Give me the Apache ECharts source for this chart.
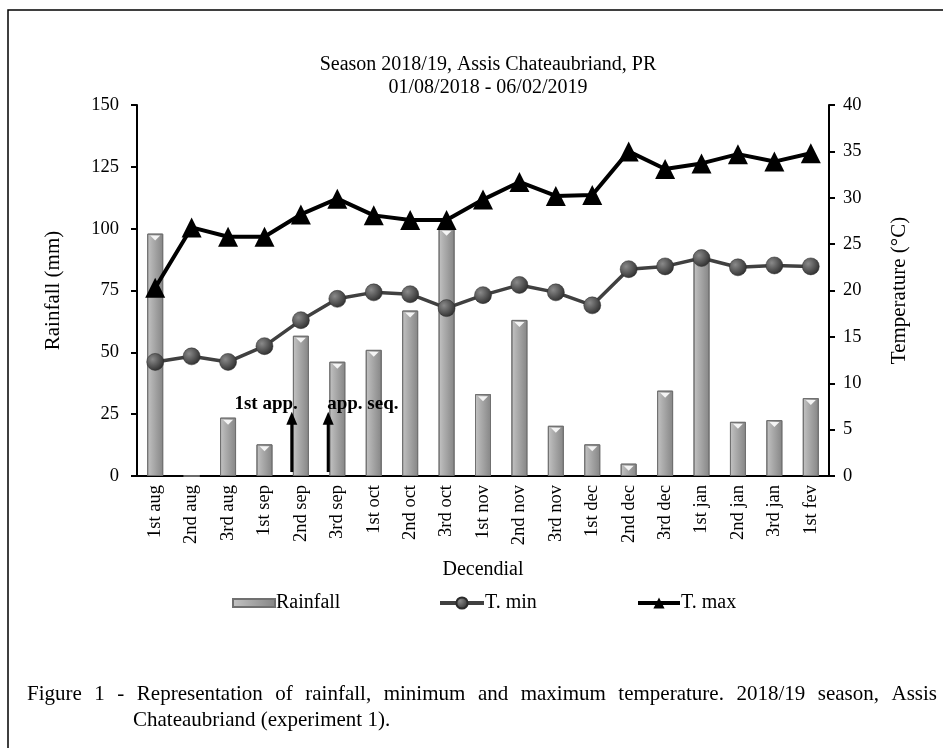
<!DOCTYPE html>
<html>
<head>
<meta charset="utf-8">
<script src="https://cdn.jsdelivr.net/npm/echarts@6/dist/echarts.min.js"></script>
<style>
  html, body { margin: 0; padding: 0; background: #fff; }
  #chart { width: 943px; height: 748px; }
</style>
</head>
<body>
<div id="chart"></div>
<script>
// decendials (10-day periods)
const decendials = ['1st aug', '2nd aug', '3rd aug', '1st sep', '2nd sep', '3rd sep',
  '1st oct', '2nd oct', '3rd oct', '1st nov', '2nd nov', '3rd nov',
  '1st dec', '2nd dec', '3rd dec', '1st jan', '2nd jan', '3rd jan', '1st fev']
const rainfall = [98, 0, 23.6, 12.8, 56.7, 46.2, 51, 66.9, 100, 33.1, 63.1, 20.3,
  12.8, 5, 34.5, 88, 21.9, 22.6, 31.5]
const tMin = [12.3, 12.9, 12.3, 14.0, 16.8, 19.1, 19.8, 19.6, 18.1, 19.5, 20.6, 19.8,
  18.4, 22.3, 22.6, 23.5, 22.5, 22.7, 22.6]
const tMax = [20.3, 26.8, 25.8, 25.8, 28.2, 29.9, 28.1, 27.6, 27.6, 29.8, 31.7, 30.2,
  30.3, 35.0, 33.1, 33.7, 34.7, 33.9, 34.8]
// application marks: category index, label, where label sits
const applications = [
  { index: 4, text: '1st app.', side: 'left' },
  { index: 5, text: 'app. seq.', side: 'right' }
]
const captionLine1 = 'Figure 1 - Representation of rainfall, minimum and maximum temperature. 2018/19 season, Assis'
const captionLine2 = 'Chateaubriand (experiment 1).'

const FONT = '"Liberation Serif", "Times New Roman", serif'
const chart = echarts.init(document.getElementById('chart'))

const barColor = new echarts.graphic.LinearGradient(0, 0, 1, 0, [
  { offset: 0, color: '#c4c4c4' },
  { offset: 0.3, color: '#b0b0b0' },
  { offset: 1, color: '#858585' }
])
const ballColor = new echarts.graphic.RadialGradient(0.35, 0.35, 0.7, [
  { offset: 0, color: '#8a8a8a' },
  { offset: 1, color: '#2e2e2e' }
])

const axisText = { color: '#000', fontFamily: FONT, fontSize: 18.5 }
const nameText = { color: '#000', fontFamily: FONT, fontSize: 21 }
const legendText = { color: '#000', fontFamily: FONT, fontSize: 20, padding: [0, 0, 0, -4] }

chart.setOption({
  animation: false,
  backgroundColor: '#fff',
  title: {
    text: 'Season 2018/19, Assis Chateaubriand, PR\n01/08/2018 - 06/02/2019',
    left: 483,
    top: 48,
    textAlign: 'center',
    textStyle: { color: '#000', fontFamily: FONT, fontSize: 20, fontWeight: 'normal', lineHeight: 23 }
  },
  legend: [
    {
      data: ['Rainfall'], left: 232, top: 593, padding: 0, icon: 'rect', itemWidth: 42, itemHeight: 8,
      textStyle: legendText
    },
    {
      data: ['T. min'], left: 438, top: 593, padding: 0, itemWidth: 44, itemHeight: 14,
      lineStyle: { width: 4, color: '#404040' },
      textStyle: legendText
    },
    {
      data: ['T. max'], left: 636, top: 593, padding: 0, itemWidth: 42, itemHeight: 14,
      lineStyle: { width: 4, color: '#000' },
      textStyle: legendText
    }
  ],
  grid: { left: 137, right: 114, top: 105, bottom: 272, containLabel: false },
  xAxis: {
    type: 'category',
    data: decendials,
    name: 'Decendial',
    nameLocation: 'middle',
    nameGap: 84,
    nameTextStyle: Object.assign({}, nameText, { fontSize: 20 }),
    axisLine: { lineStyle: { color: '#000', width: 2 } },
    axisTick: { length: 5, lineStyle: { color: '#000', width: 2 } },
    axisLabel: Object.assign({ rotate: 90, interval: 0, margin: 9 }, axisText)
  },
  yAxis: [
    {
      type: 'value', min: 0, max: 150, interval: 25,
      name: 'Rainfall (mm)', nameLocation: 'middle', nameGap: 73, nameTextStyle: nameText,
      splitLine: { show: false },
      axisLine: { show: true, lineStyle: { color: '#000', width: 2 } },
      axisTick: { show: true, length: 6, lineStyle: { color: '#000', width: 2 } },
      axisLabel: Object.assign({ margin: 18 }, axisText)
    },
    {
      type: 'value', min: 0, max: 40, interval: 5,
      name: 'Temperature (°C)', nameLocation: 'middle', nameGap: 60, nameTextStyle: nameText,
      splitLine: { show: false },
      axisLine: { show: true, lineStyle: { color: '#000', width: 2 } },
      axisTick: { show: true, length: 6, lineStyle: { color: '#000', width: 2 } },
      axisLabel: Object.assign({ margin: 14 }, axisText)
    }
  ],
  series: [
    {
      name: 'Rainfall', type: 'bar', data: rainfall, barWidth: 16,
      itemStyle: { color: barColor, borderColor: '#707070', borderWidth: 1 }
    },
    {
      // white highlight at the top of every bar
      type: 'pictorialBar', data: rainfall.map(v => (v > 0 ? v : '-')),
      symbol: 'path://M0,0 L12,0 L6,5 Z', symbolSize: [10, 5],
      symbolPosition: 'end', symbolOffset: [0, 2], z: 3, silent: true,
      itemStyle: { color: '#f4f4f4' }
    },
    {
      name: 'T. min', type: 'line', yAxisIndex: 1, data: tMin,
      symbol: 'circle', symbolSize: 17,
      lineStyle: { color: '#404040', width: 3.5 },
      itemStyle: { color: ballColor, borderColor: '#2a2a2a', borderWidth: 0.5 },
      z: 4
    },
    {
      name: 'T. max', type: 'line', yAxisIndex: 1, data: tMax,
      symbol: 'triangle', symbolSize: 20,
      lineStyle: { color: '#000', width: 4 },
      itemStyle: { color: '#000' },
      z: 5
    }
  ]
})

// annotations, frame and caption
const graphics = []
graphics.push({
  type: 'rect', silent: true, z: 0,
  shape: { x: 8, y: 10, width: 1000, height: 800 },
  style: { fill: 'none', stroke: '#000', lineWidth: 1.5 }
})

const band = chart.convertToPixel({ xAxisIndex: 0 }, 1) - chart.convertToPixel({ xAxisIndex: 0 }, 0)
applications.forEach(a => {
  const x = chart.convertToPixel({ xAxisIndex: 0 }, a.index) - band * 0.25
  const yBottom = chart.convertToPixel({ yAxisIndex: 0 }, 1.6)
  const yTop = chart.convertToPixel({ yAxisIndex: 0 }, 26)
  graphics.push({
    type: 'line', z: 10,
    shape: { x1: x, y1: yBottom, x2: x, y2: yTop + 10 },
    style: { stroke: '#000', lineWidth: 3 }
  })
  graphics.push({
    type: 'polygon', z: 10,
    shape: { points: [[x - 5.5, yTop + 13], [x + 5.5, yTop + 13], [x, yTop]] },
    style: { fill: '#000' }
  })
  graphics.push({
    type: 'text', z: 10,
    x: a.side === 'left' ? x + 6 : x - 1,
    y: yTop - 8,
    style: {
      text: a.text, fill: '#000', font: 'bold 19px ' + FONT,
      align: a.side === 'left' ? 'right' : 'left', verticalAlign: 'middle'
    }
  })
})

// justified caption first line
const ctx = document.createElement('canvas').getContext('2d')
const capFont = '21px ' + FONT
ctx.font = capFont
const words = captionLine1.split(' ')
const capLeft = 27, capRight = 937
const wordsWidth = words.reduce((s, w) => s + ctx.measureText(w).width, 0)
const gap = (capRight - capLeft - wordsWidth) / (words.length - 1)
let cx = capLeft
words.forEach(w => {
  graphics.push({
    type: 'text', x: cx, y: 694,
    style: { text: w, fill: '#000', font: capFont, verticalAlign: 'middle' }
  })
  cx += ctx.measureText(w).width + gap
})
graphics.push({
  type: 'text', x: 133, y: 720,
  style: { text: captionLine2, fill: '#000', font: capFont, verticalAlign: 'middle' }
})

chart.setOption({ graphic: graphics })
</script>
</body>
</html>
